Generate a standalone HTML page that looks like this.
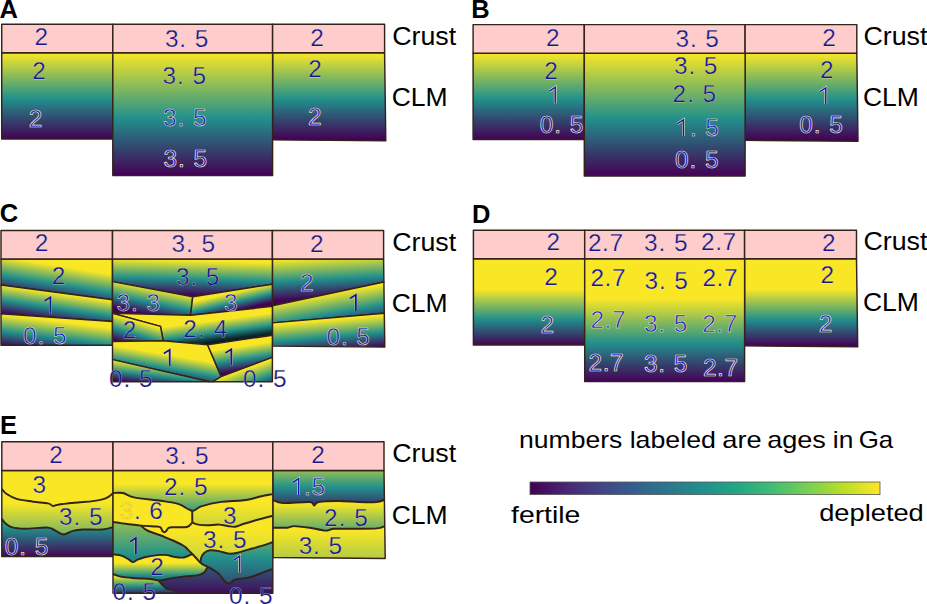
<!DOCTYPE html>
<html><head><meta charset="utf-8"><title>figure</title>
<style>
html,body{margin:0;padding:0;background:#fff;overflow:hidden}
svg{display:block}
text{font-family:"Liberation Sans",sans-serif}
.n text{font-size:24.4px;stroke:#f8ecb8;stroke-width:.25px;stroke-linejoin:round}
.n .d1{stroke-width:.5px;fill:#1818c0}
.n .d2{stroke-width:.7px;fill:#1414d8}
.l text{fill:#000}
</style></head><body>
<svg width="927" height="604" viewBox="0 0 927 604">
<defs>
<linearGradient id="g1" gradientUnits="userSpaceOnUse" x1="0.0" y1="52.8" x2="0.0" y2="139.0"><stop offset="0" stop-color="#f9e725"/><stop offset="0.05" stop-color="#e5df2f"/><stop offset="0.1" stop-color="#d0d738"/><stop offset="0.15" stop-color="#bccf42"/><stop offset="0.2" stop-color="#a7c74c"/><stop offset="0.25" stop-color="#93be56"/><stop offset="0.3" stop-color="#7fb65f"/><stop offset="0.35" stop-color="#6aae69"/><stop offset="0.4" stop-color="#56a673"/><stop offset="0.45" stop-color="#429e7c"/><stop offset="0.5" stop-color="#2d9686"/><stop offset="0.55" stop-color="#228b8a"/><stop offset="0.6" stop-color="#267c84"/><stop offset="0.65" stop-color="#2a6c7e"/><stop offset="0.7" stop-color="#2e5d78"/><stop offset="0.75" stop-color="#314e72"/><stop offset="0.8" stop-color="#353e6c"/><stop offset="0.85" stop-color="#392f66"/><stop offset="0.9" stop-color="#3d2060"/><stop offset="0.95" stop-color="#40105a"/><stop offset="1" stop-color="#440154"/></linearGradient>
<linearGradient id="g2" gradientUnits="userSpaceOnUse" x1="0.0" y1="52.8" x2="0.0" y2="139.6"><stop offset="0" stop-color="#f9e725"/><stop offset="0.05" stop-color="#e5df2f"/><stop offset="0.1" stop-color="#d0d738"/><stop offset="0.15" stop-color="#bccf42"/><stop offset="0.2" stop-color="#a7c74c"/><stop offset="0.25" stop-color="#93be56"/><stop offset="0.3" stop-color="#7fb65f"/><stop offset="0.35" stop-color="#6aae69"/><stop offset="0.4" stop-color="#56a673"/><stop offset="0.45" stop-color="#429e7c"/><stop offset="0.5" stop-color="#2d9686"/><stop offset="0.55" stop-color="#228b8a"/><stop offset="0.6" stop-color="#267c84"/><stop offset="0.65" stop-color="#2a6c7e"/><stop offset="0.7" stop-color="#2e5d78"/><stop offset="0.75" stop-color="#314e72"/><stop offset="0.8" stop-color="#353e6c"/><stop offset="0.85" stop-color="#392f66"/><stop offset="0.9" stop-color="#3d2060"/><stop offset="0.95" stop-color="#40105a"/><stop offset="1" stop-color="#440154"/></linearGradient>
<linearGradient id="g3" gradientUnits="userSpaceOnUse" x1="0.0" y1="52.8" x2="0.0" y2="175.6"><stop offset="0" stop-color="#f9e725"/><stop offset="0.05" stop-color="#e5df2f"/><stop offset="0.1" stop-color="#d0d738"/><stop offset="0.15" stop-color="#bccf42"/><stop offset="0.2" stop-color="#a7c74c"/><stop offset="0.25" stop-color="#93be56"/><stop offset="0.3" stop-color="#7fb65f"/><stop offset="0.35" stop-color="#6aae69"/><stop offset="0.4" stop-color="#56a673"/><stop offset="0.45" stop-color="#429e7c"/><stop offset="0.5" stop-color="#2d9686"/><stop offset="0.55" stop-color="#228b8a"/><stop offset="0.6" stop-color="#267c84"/><stop offset="0.65" stop-color="#2a6c7e"/><stop offset="0.7" stop-color="#2e5d78"/><stop offset="0.75" stop-color="#314e72"/><stop offset="0.8" stop-color="#353e6c"/><stop offset="0.85" stop-color="#392f66"/><stop offset="0.9" stop-color="#3d2060"/><stop offset="0.95" stop-color="#40105a"/><stop offset="1" stop-color="#440154"/></linearGradient>
<linearGradient id="g4" gradientUnits="userSpaceOnUse" x1="0.0" y1="53.2" x2="0.0" y2="139.4"><stop offset="0" stop-color="#f9e725"/><stop offset="0.05" stop-color="#e5df2f"/><stop offset="0.1" stop-color="#d0d738"/><stop offset="0.15" stop-color="#bccf42"/><stop offset="0.2" stop-color="#a7c74c"/><stop offset="0.25" stop-color="#93be56"/><stop offset="0.3" stop-color="#7fb65f"/><stop offset="0.35" stop-color="#6aae69"/><stop offset="0.4" stop-color="#56a673"/><stop offset="0.45" stop-color="#429e7c"/><stop offset="0.5" stop-color="#2d9686"/><stop offset="0.55" stop-color="#228b8a"/><stop offset="0.6" stop-color="#267c84"/><stop offset="0.65" stop-color="#2a6c7e"/><stop offset="0.7" stop-color="#2e5d78"/><stop offset="0.75" stop-color="#314e72"/><stop offset="0.8" stop-color="#353e6c"/><stop offset="0.85" stop-color="#392f66"/><stop offset="0.9" stop-color="#3d2060"/><stop offset="0.95" stop-color="#40105a"/><stop offset="1" stop-color="#440154"/></linearGradient>
<linearGradient id="g5" gradientUnits="userSpaceOnUse" x1="0.0" y1="53.2" x2="0.0" y2="140.0"><stop offset="0" stop-color="#f9e725"/><stop offset="0.05" stop-color="#e5df2f"/><stop offset="0.1" stop-color="#d0d738"/><stop offset="0.15" stop-color="#bccf42"/><stop offset="0.2" stop-color="#a7c74c"/><stop offset="0.25" stop-color="#93be56"/><stop offset="0.3" stop-color="#7fb65f"/><stop offset="0.35" stop-color="#6aae69"/><stop offset="0.4" stop-color="#56a673"/><stop offset="0.45" stop-color="#429e7c"/><stop offset="0.5" stop-color="#2d9686"/><stop offset="0.55" stop-color="#228b8a"/><stop offset="0.6" stop-color="#267c84"/><stop offset="0.65" stop-color="#2a6c7e"/><stop offset="0.7" stop-color="#2e5d78"/><stop offset="0.75" stop-color="#314e72"/><stop offset="0.8" stop-color="#353e6c"/><stop offset="0.85" stop-color="#392f66"/><stop offset="0.9" stop-color="#3d2060"/><stop offset="0.95" stop-color="#40105a"/><stop offset="1" stop-color="#440154"/></linearGradient>
<linearGradient id="g6" gradientUnits="userSpaceOnUse" x1="0.0" y1="53.2" x2="0.0" y2="176.0"><stop offset="0" stop-color="#f9e725"/><stop offset="0.05" stop-color="#e5df2f"/><stop offset="0.1" stop-color="#d0d738"/><stop offset="0.15" stop-color="#bccf42"/><stop offset="0.2" stop-color="#a7c74c"/><stop offset="0.25" stop-color="#93be56"/><stop offset="0.3" stop-color="#7fb65f"/><stop offset="0.35" stop-color="#6aae69"/><stop offset="0.4" stop-color="#56a673"/><stop offset="0.45" stop-color="#429e7c"/><stop offset="0.5" stop-color="#2d9686"/><stop offset="0.55" stop-color="#228b8a"/><stop offset="0.6" stop-color="#267c84"/><stop offset="0.65" stop-color="#2a6c7e"/><stop offset="0.7" stop-color="#2e5d78"/><stop offset="0.75" stop-color="#314e72"/><stop offset="0.8" stop-color="#353e6c"/><stop offset="0.85" stop-color="#392f66"/><stop offset="0.9" stop-color="#3d2060"/><stop offset="0.95" stop-color="#40105a"/><stop offset="1" stop-color="#440154"/></linearGradient>
<linearGradient id="g7" gradientUnits="userSpaceOnUse" x1="0.0" y1="289.3" x2="0.0" y2="345.5"><stop offset="0" stop-color="#f9e725"/><stop offset="0.05" stop-color="#e5df2f"/><stop offset="0.1" stop-color="#d0d738"/><stop offset="0.15" stop-color="#bccf42"/><stop offset="0.2" stop-color="#a7c74c"/><stop offset="0.25" stop-color="#93be56"/><stop offset="0.3" stop-color="#7fb65f"/><stop offset="0.35" stop-color="#6aae69"/><stop offset="0.4" stop-color="#56a673"/><stop offset="0.45" stop-color="#429e7c"/><stop offset="0.5" stop-color="#2d9686"/><stop offset="0.55" stop-color="#228b8a"/><stop offset="0.6" stop-color="#267c84"/><stop offset="0.65" stop-color="#2a6c7e"/><stop offset="0.7" stop-color="#2e5d78"/><stop offset="0.75" stop-color="#314e72"/><stop offset="0.8" stop-color="#353e6c"/><stop offset="0.85" stop-color="#392f66"/><stop offset="0.9" stop-color="#3d2060"/><stop offset="0.95" stop-color="#40105a"/><stop offset="1" stop-color="#440154"/></linearGradient>
<linearGradient id="g8" gradientUnits="userSpaceOnUse" x1="0.0" y1="289.3" x2="0.0" y2="346.1"><stop offset="0" stop-color="#f9e725"/><stop offset="0.05" stop-color="#e5df2f"/><stop offset="0.1" stop-color="#d0d738"/><stop offset="0.15" stop-color="#bccf42"/><stop offset="0.2" stop-color="#a7c74c"/><stop offset="0.25" stop-color="#93be56"/><stop offset="0.3" stop-color="#7fb65f"/><stop offset="0.35" stop-color="#6aae69"/><stop offset="0.4" stop-color="#56a673"/><stop offset="0.45" stop-color="#429e7c"/><stop offset="0.5" stop-color="#2d9686"/><stop offset="0.55" stop-color="#228b8a"/><stop offset="0.6" stop-color="#267c84"/><stop offset="0.65" stop-color="#2a6c7e"/><stop offset="0.7" stop-color="#2e5d78"/><stop offset="0.75" stop-color="#314e72"/><stop offset="0.8" stop-color="#353e6c"/><stop offset="0.85" stop-color="#392f66"/><stop offset="0.9" stop-color="#3d2060"/><stop offset="0.95" stop-color="#40105a"/><stop offset="1" stop-color="#440154"/></linearGradient>
<linearGradient id="g9" gradientUnits="userSpaceOnUse" x1="0.0" y1="298.8" x2="0.0" y2="381.6"><stop offset="0" stop-color="#f9e725"/><stop offset="0.05" stop-color="#e5df2f"/><stop offset="0.1" stop-color="#d0d738"/><stop offset="0.15" stop-color="#bccf42"/><stop offset="0.2" stop-color="#a7c74c"/><stop offset="0.25" stop-color="#93be56"/><stop offset="0.3" stop-color="#7fb65f"/><stop offset="0.35" stop-color="#6aae69"/><stop offset="0.4" stop-color="#56a673"/><stop offset="0.45" stop-color="#429e7c"/><stop offset="0.5" stop-color="#2d9686"/><stop offset="0.55" stop-color="#228b8a"/><stop offset="0.6" stop-color="#267c84"/><stop offset="0.65" stop-color="#2a6c7e"/><stop offset="0.7" stop-color="#2e5d78"/><stop offset="0.75" stop-color="#314e72"/><stop offset="0.8" stop-color="#353e6c"/><stop offset="0.85" stop-color="#392f66"/><stop offset="0.9" stop-color="#3d2060"/><stop offset="0.95" stop-color="#40105a"/><stop offset="1" stop-color="#440154"/></linearGradient>
<linearGradient id="g10" gradientUnits="userSpaceOnUse" x1="2.0" y1="256.8" x2="-3.4" y2="290.9"><stop offset="0" stop-color="#f9e725"/><stop offset="0.05" stop-color="#e5df2f"/><stop offset="0.1" stop-color="#d0d738"/><stop offset="0.15" stop-color="#bccf42"/><stop offset="0.2" stop-color="#a7c74c"/><stop offset="0.25" stop-color="#93be56"/><stop offset="0.3" stop-color="#7fb65f"/><stop offset="0.35" stop-color="#6aae69"/><stop offset="0.4" stop-color="#56a673"/><stop offset="0.45" stop-color="#429e7c"/><stop offset="0.5" stop-color="#2d9686"/><stop offset="0.55" stop-color="#228b8a"/><stop offset="0.6" stop-color="#267c84"/><stop offset="0.65" stop-color="#2a6c7e"/><stop offset="0.7" stop-color="#2e5d78"/><stop offset="0.75" stop-color="#314e72"/><stop offset="0.8" stop-color="#353e6c"/><stop offset="0.85" stop-color="#392f66"/><stop offset="0.9" stop-color="#3d2060"/><stop offset="0.95" stop-color="#40105a"/><stop offset="1" stop-color="#440154"/></linearGradient>
<linearGradient id="g11" gradientUnits="userSpaceOnUse" x1="2.0" y1="285.0" x2="-2.1" y2="312.7"><stop offset="0" stop-color="#f9e725"/><stop offset="0.05" stop-color="#e5df2f"/><stop offset="0.1" stop-color="#d0d738"/><stop offset="0.15" stop-color="#bccf42"/><stop offset="0.2" stop-color="#a7c74c"/><stop offset="0.25" stop-color="#93be56"/><stop offset="0.3" stop-color="#7fb65f"/><stop offset="0.35" stop-color="#6aae69"/><stop offset="0.4" stop-color="#56a673"/><stop offset="0.45" stop-color="#429e7c"/><stop offset="0.5" stop-color="#2d9686"/><stop offset="0.55" stop-color="#228b8a"/><stop offset="0.6" stop-color="#267c84"/><stop offset="0.65" stop-color="#2a6c7e"/><stop offset="0.7" stop-color="#2e5d78"/><stop offset="0.75" stop-color="#314e72"/><stop offset="0.8" stop-color="#353e6c"/><stop offset="0.85" stop-color="#392f66"/><stop offset="0.9" stop-color="#3d2060"/><stop offset="0.95" stop-color="#40105a"/><stop offset="1" stop-color="#440154"/></linearGradient>
<linearGradient id="g12" gradientUnits="userSpaceOnUse" x1="2.0" y1="314.5" x2="-1.8" y2="345.3"><stop offset="0" stop-color="#f9e725"/><stop offset="0.05" stop-color="#e5df2f"/><stop offset="0.1" stop-color="#d0d738"/><stop offset="0.15" stop-color="#bccf42"/><stop offset="0.2" stop-color="#a7c74c"/><stop offset="0.25" stop-color="#93be56"/><stop offset="0.3" stop-color="#7fb65f"/><stop offset="0.35" stop-color="#6aae69"/><stop offset="0.4" stop-color="#56a673"/><stop offset="0.45" stop-color="#429e7c"/><stop offset="0.5" stop-color="#2d9686"/><stop offset="0.55" stop-color="#228b8a"/><stop offset="0.6" stop-color="#267c84"/><stop offset="0.65" stop-color="#2a6c7e"/><stop offset="0.7" stop-color="#2e5d78"/><stop offset="0.75" stop-color="#314e72"/><stop offset="0.8" stop-color="#353e6c"/><stop offset="0.85" stop-color="#392f66"/><stop offset="0.9" stop-color="#3d2060"/><stop offset="0.95" stop-color="#40105a"/><stop offset="1" stop-color="#440154"/></linearGradient>
<linearGradient id="g13" gradientUnits="userSpaceOnUse" x1="273.0" y1="260.0" x2="275.1" y2="300.9"><stop offset="0" stop-color="#f9e725"/><stop offset="0.05" stop-color="#e5df2f"/><stop offset="0.1" stop-color="#d0d738"/><stop offset="0.15" stop-color="#bccf42"/><stop offset="0.2" stop-color="#a7c74c"/><stop offset="0.25" stop-color="#93be56"/><stop offset="0.3" stop-color="#7fb65f"/><stop offset="0.35" stop-color="#6aae69"/><stop offset="0.4" stop-color="#56a673"/><stop offset="0.45" stop-color="#429e7c"/><stop offset="0.5" stop-color="#2d9686"/><stop offset="0.55" stop-color="#228b8a"/><stop offset="0.6" stop-color="#267c84"/><stop offset="0.65" stop-color="#2a6c7e"/><stop offset="0.7" stop-color="#2e5d78"/><stop offset="0.75" stop-color="#314e72"/><stop offset="0.8" stop-color="#353e6c"/><stop offset="0.85" stop-color="#392f66"/><stop offset="0.9" stop-color="#3d2060"/><stop offset="0.95" stop-color="#40105a"/><stop offset="1" stop-color="#440154"/></linearGradient>
<linearGradient id="g14" gradientUnits="userSpaceOnUse" x1="384.0" y1="284.0" x2="390.6" y2="321.4"><stop offset="0" stop-color="#f9e725"/><stop offset="0.05" stop-color="#e5df2f"/><stop offset="0.1" stop-color="#d0d738"/><stop offset="0.15" stop-color="#bccf42"/><stop offset="0.2" stop-color="#a7c74c"/><stop offset="0.25" stop-color="#93be56"/><stop offset="0.3" stop-color="#7fb65f"/><stop offset="0.35" stop-color="#6aae69"/><stop offset="0.4" stop-color="#56a673"/><stop offset="0.45" stop-color="#429e7c"/><stop offset="0.5" stop-color="#2d9686"/><stop offset="0.55" stop-color="#228b8a"/><stop offset="0.6" stop-color="#267c84"/><stop offset="0.65" stop-color="#2a6c7e"/><stop offset="0.7" stop-color="#2e5d78"/><stop offset="0.75" stop-color="#314e72"/><stop offset="0.8" stop-color="#353e6c"/><stop offset="0.85" stop-color="#392f66"/><stop offset="0.9" stop-color="#3d2060"/><stop offset="0.95" stop-color="#40105a"/><stop offset="1" stop-color="#440154"/></linearGradient>
<linearGradient id="g15" gradientUnits="userSpaceOnUse" x1="384.0" y1="315.0" x2="386.8" y2="346.9"><stop offset="0" stop-color="#f9e725"/><stop offset="0.05" stop-color="#e5df2f"/><stop offset="0.1" stop-color="#d0d738"/><stop offset="0.15" stop-color="#bccf42"/><stop offset="0.2" stop-color="#a7c74c"/><stop offset="0.25" stop-color="#93be56"/><stop offset="0.3" stop-color="#7fb65f"/><stop offset="0.35" stop-color="#6aae69"/><stop offset="0.4" stop-color="#56a673"/><stop offset="0.45" stop-color="#429e7c"/><stop offset="0.5" stop-color="#2d9686"/><stop offset="0.55" stop-color="#228b8a"/><stop offset="0.6" stop-color="#267c84"/><stop offset="0.65" stop-color="#2a6c7e"/><stop offset="0.7" stop-color="#2e5d78"/><stop offset="0.75" stop-color="#314e72"/><stop offset="0.8" stop-color="#353e6c"/><stop offset="0.85" stop-color="#392f66"/><stop offset="0.9" stop-color="#3d2060"/><stop offset="0.95" stop-color="#40105a"/><stop offset="1" stop-color="#440154"/></linearGradient>
<linearGradient id="g16" gradientUnits="userSpaceOnUse" x1="113.0" y1="258.3" x2="112.0" y2="293.3"><stop offset="0" stop-color="#f9e725"/><stop offset="0.05" stop-color="#e5df2f"/><stop offset="0.1" stop-color="#d0d738"/><stop offset="0.15" stop-color="#bccf42"/><stop offset="0.2" stop-color="#a7c74c"/><stop offset="0.25" stop-color="#93be56"/><stop offset="0.3" stop-color="#7fb65f"/><stop offset="0.35" stop-color="#6aae69"/><stop offset="0.4" stop-color="#56a673"/><stop offset="0.45" stop-color="#429e7c"/><stop offset="0.5" stop-color="#2d9686"/><stop offset="0.55" stop-color="#228b8a"/><stop offset="0.6" stop-color="#267c84"/><stop offset="0.65" stop-color="#2a6c7e"/><stop offset="0.7" stop-color="#2e5d78"/><stop offset="0.75" stop-color="#314e72"/><stop offset="0.8" stop-color="#353e6c"/><stop offset="0.85" stop-color="#392f66"/><stop offset="0.9" stop-color="#3d2060"/><stop offset="0.95" stop-color="#40105a"/><stop offset="1" stop-color="#440154"/></linearGradient>
<linearGradient id="g17" gradientUnits="userSpaceOnUse" x1="113.0" y1="280.2" x2="107.8" y2="306.7"><stop offset="0" stop-color="#f9e725"/><stop offset="0.05" stop-color="#e5df2f"/><stop offset="0.1" stop-color="#d0d738"/><stop offset="0.15" stop-color="#bccf42"/><stop offset="0.2" stop-color="#a7c74c"/><stop offset="0.25" stop-color="#93be56"/><stop offset="0.3" stop-color="#7fb65f"/><stop offset="0.35" stop-color="#6aae69"/><stop offset="0.4" stop-color="#56a673"/><stop offset="0.45" stop-color="#429e7c"/><stop offset="0.5" stop-color="#2d9686"/><stop offset="0.55" stop-color="#228b8a"/><stop offset="0.6" stop-color="#267c84"/><stop offset="0.65" stop-color="#2a6c7e"/><stop offset="0.7" stop-color="#2e5d78"/><stop offset="0.75" stop-color="#314e72"/><stop offset="0.8" stop-color="#353e6c"/><stop offset="0.85" stop-color="#392f66"/><stop offset="0.9" stop-color="#3d2060"/><stop offset="0.95" stop-color="#40105a"/><stop offset="1" stop-color="#440154"/></linearGradient>
<linearGradient id="g18" gradientUnits="userSpaceOnUse" x1="272.0" y1="283.4" x2="276.2" y2="301.4"><stop offset="0" stop-color="#f9e725"/><stop offset="0.05" stop-color="#e5df2f"/><stop offset="0.1" stop-color="#d0d738"/><stop offset="0.15" stop-color="#bccf42"/><stop offset="0.2" stop-color="#a7c74c"/><stop offset="0.25" stop-color="#93be56"/><stop offset="0.3" stop-color="#7fb65f"/><stop offset="0.35" stop-color="#6aae69"/><stop offset="0.4" stop-color="#56a673"/><stop offset="0.45" stop-color="#429e7c"/><stop offset="0.5" stop-color="#2d9686"/><stop offset="0.55" stop-color="#228b8a"/><stop offset="0.6" stop-color="#267c84"/><stop offset="0.65" stop-color="#2a6c7e"/><stop offset="0.7" stop-color="#2e5d78"/><stop offset="0.75" stop-color="#314e72"/><stop offset="0.8" stop-color="#353e6c"/><stop offset="0.85" stop-color="#392f66"/><stop offset="0.9" stop-color="#3d2060"/><stop offset="0.95" stop-color="#40105a"/><stop offset="1" stop-color="#440154"/></linearGradient>
<linearGradient id="g19" gradientUnits="userSpaceOnUse" x1="271.5" y1="313.0" x2="274.7" y2="337.3"><stop offset="0" stop-color="#f9e725"/><stop offset="0.5" stop-color="#21918c"/><stop offset="0.77" stop-color="#0f3438"/><stop offset="0.95" stop-color="#040c0e"/></linearGradient>
<linearGradient id="g20" gradientUnits="userSpaceOnUse" x1="113.0" y1="314.5" x2="106.4" y2="337.6"><stop offset="0" stop-color="#f9e725"/><stop offset="0.05" stop-color="#e5df2f"/><stop offset="0.1" stop-color="#d0d738"/><stop offset="0.15" stop-color="#bccf42"/><stop offset="0.2" stop-color="#a7c74c"/><stop offset="0.25" stop-color="#93be56"/><stop offset="0.3" stop-color="#7fb65f"/><stop offset="0.35" stop-color="#6aae69"/><stop offset="0.4" stop-color="#56a673"/><stop offset="0.45" stop-color="#429e7c"/><stop offset="0.5" stop-color="#2d9686"/><stop offset="0.55" stop-color="#228b8a"/><stop offset="0.6" stop-color="#267c84"/><stop offset="0.65" stop-color="#2a6c7e"/><stop offset="0.7" stop-color="#2e5d78"/><stop offset="0.75" stop-color="#314e72"/><stop offset="0.8" stop-color="#353e6c"/><stop offset="0.85" stop-color="#392f66"/><stop offset="0.9" stop-color="#3d2060"/><stop offset="0.95" stop-color="#40105a"/><stop offset="1" stop-color="#440154"/></linearGradient>
<linearGradient id="g21" gradientUnits="userSpaceOnUse" x1="113.0" y1="345.2" x2="108.6" y2="370.8"><stop offset="0" stop-color="#f9e725"/><stop offset="0.05" stop-color="#e5df2f"/><stop offset="0.1" stop-color="#d0d738"/><stop offset="0.15" stop-color="#bccf42"/><stop offset="0.2" stop-color="#a7c74c"/><stop offset="0.25" stop-color="#93be56"/><stop offset="0.3" stop-color="#7fb65f"/><stop offset="0.35" stop-color="#6aae69"/><stop offset="0.4" stop-color="#56a673"/><stop offset="0.45" stop-color="#429e7c"/><stop offset="0.5" stop-color="#2d9686"/><stop offset="0.55" stop-color="#228b8a"/><stop offset="0.6" stop-color="#267c84"/><stop offset="0.65" stop-color="#2a6c7e"/><stop offset="0.7" stop-color="#2e5d78"/><stop offset="0.75" stop-color="#314e72"/><stop offset="0.8" stop-color="#353e6c"/><stop offset="0.85" stop-color="#392f66"/><stop offset="0.9" stop-color="#3d2060"/><stop offset="0.95" stop-color="#40105a"/><stop offset="1" stop-color="#440154"/></linearGradient>
<linearGradient id="g22" gradientUnits="userSpaceOnUse" x1="113.0" y1="360.0" x2="110.7" y2="379.9"><stop offset="0" stop-color="#f9e725"/><stop offset="0.05" stop-color="#e5df2f"/><stop offset="0.1" stop-color="#d0d738"/><stop offset="0.15" stop-color="#bccf42"/><stop offset="0.2" stop-color="#a7c74c"/><stop offset="0.25" stop-color="#93be56"/><stop offset="0.3" stop-color="#7fb65f"/><stop offset="0.35" stop-color="#6aae69"/><stop offset="0.4" stop-color="#56a673"/><stop offset="0.45" stop-color="#429e7c"/><stop offset="0.5" stop-color="#2d9686"/><stop offset="0.55" stop-color="#228b8a"/><stop offset="0.6" stop-color="#267c84"/><stop offset="0.65" stop-color="#2a6c7e"/><stop offset="0.7" stop-color="#2e5d78"/><stop offset="0.75" stop-color="#314e72"/><stop offset="0.8" stop-color="#353e6c"/><stop offset="0.85" stop-color="#392f66"/><stop offset="0.9" stop-color="#3d2060"/><stop offset="0.95" stop-color="#40105a"/><stop offset="1" stop-color="#440154"/></linearGradient>
<linearGradient id="g23" gradientUnits="userSpaceOnUse" x1="225.0" y1="348.6" x2="228.6" y2="372.8"><stop offset="0" stop-color="#f9e725"/><stop offset="0.05" stop-color="#e5df2f"/><stop offset="0.1" stop-color="#d0d738"/><stop offset="0.15" stop-color="#bccf42"/><stop offset="0.2" stop-color="#a7c74c"/><stop offset="0.25" stop-color="#93be56"/><stop offset="0.3" stop-color="#7fb65f"/><stop offset="0.35" stop-color="#6aae69"/><stop offset="0.4" stop-color="#56a673"/><stop offset="0.45" stop-color="#429e7c"/><stop offset="0.5" stop-color="#2d9686"/><stop offset="0.55" stop-color="#228b8a"/><stop offset="0.6" stop-color="#267c84"/><stop offset="0.65" stop-color="#2a6c7e"/><stop offset="0.7" stop-color="#2e5d78"/><stop offset="0.75" stop-color="#314e72"/><stop offset="0.8" stop-color="#353e6c"/><stop offset="0.85" stop-color="#392f66"/><stop offset="0.9" stop-color="#3d2060"/><stop offset="0.95" stop-color="#40105a"/><stop offset="1" stop-color="#440154"/></linearGradient>
<linearGradient id="g24" gradientUnits="userSpaceOnUse" x1="271.0" y1="360.0" x2="280.0" y2="385.5"><stop offset="0" stop-color="#f9e725"/><stop offset="0.05" stop-color="#e5df2f"/><stop offset="0.1" stop-color="#d0d738"/><stop offset="0.15" stop-color="#bccf42"/><stop offset="0.2" stop-color="#a7c74c"/><stop offset="0.25" stop-color="#93be56"/><stop offset="0.3" stop-color="#7fb65f"/><stop offset="0.35" stop-color="#6aae69"/><stop offset="0.4" stop-color="#56a673"/><stop offset="0.45" stop-color="#429e7c"/><stop offset="0.5" stop-color="#2d9686"/><stop offset="0.55" stop-color="#228b8a"/><stop offset="0.6" stop-color="#267c84"/><stop offset="0.65" stop-color="#2a6c7e"/><stop offset="0.7" stop-color="#2e5d78"/><stop offset="0.75" stop-color="#314e72"/><stop offset="0.8" stop-color="#353e6c"/><stop offset="0.85" stop-color="#392f66"/><stop offset="0.9" stop-color="#3d2060"/><stop offset="0.95" stop-color="#40105a"/><stop offset="1" stop-color="#440154"/></linearGradient>
<linearGradient id="g25" gradientUnits="userSpaceOnUse" x1="0.0" y1="524.0" x2="0.0" y2="556.6"><stop offset="0" stop-color="#399b80"/><stop offset="0.05" stop-color="#2f9785"/><stop offset="0.1" stop-color="#25928a"/><stop offset="0.15" stop-color="#228c8a"/><stop offset="0.2" stop-color="#248487"/><stop offset="0.25" stop-color="#267c84"/><stop offset="0.3" stop-color="#287581"/><stop offset="0.35" stop-color="#2a6d7e"/><stop offset="0.4" stop-color="#2c657b"/><stop offset="0.45" stop-color="#2e5d78"/><stop offset="0.5" stop-color="#305575"/><stop offset="0.55" stop-color="#314d72"/><stop offset="0.6" stop-color="#33466f"/><stop offset="0.65" stop-color="#353e6c"/><stop offset="0.7" stop-color="#373669"/><stop offset="0.75" stop-color="#392e66"/><stop offset="0.8" stop-color="#3b2663"/><stop offset="0.85" stop-color="#3d1f5f"/><stop offset="0.9" stop-color="#3f175c"/><stop offset="0.95" stop-color="#410f59"/><stop offset="1" stop-color="#430756"/></linearGradient>
<linearGradient id="g26" gradientUnits="userSpaceOnUse" x1="0.0" y1="503.0" x2="0.0" y2="535.0"><stop offset="0" stop-color="#f9e725"/><stop offset="0.05" stop-color="#f2e428"/><stop offset="0.1" stop-color="#ece22b"/><stop offset="0.15" stop-color="#e5df2e"/><stop offset="0.2" stop-color="#dfdd31"/><stop offset="0.25" stop-color="#d8da35"/><stop offset="0.3" stop-color="#d2d738"/><stop offset="0.35" stop-color="#cbd53b"/><stop offset="0.4" stop-color="#c5d23e"/><stop offset="0.45" stop-color="#bed041"/><stop offset="0.5" stop-color="#b8cd44"/><stop offset="0.55" stop-color="#b1ca47"/><stop offset="0.6" stop-color="#abc84a"/><stop offset="0.65" stop-color="#a4c54d"/><stop offset="0.7" stop-color="#9ec351"/><stop offset="0.75" stop-color="#97c054"/><stop offset="0.8" stop-color="#91bd57"/><stop offset="0.85" stop-color="#8abb5a"/><stop offset="0.9" stop-color="#84b85d"/><stop offset="0.95" stop-color="#7db660"/><stop offset="1" stop-color="#77b363"/></linearGradient>
<linearGradient id="g27" gradientUnits="userSpaceOnUse" x1="0.0" y1="530.0" x2="0.0" y2="557.0"><stop offset="0" stop-color="#f9e725"/><stop offset="0.05" stop-color="#f6e627"/><stop offset="0.1" stop-color="#f2e428"/><stop offset="0.15" stop-color="#efe32a"/><stop offset="0.2" stop-color="#ece22b"/><stop offset="0.25" stop-color="#e9e12d"/><stop offset="0.3" stop-color="#e5df2e"/><stop offset="0.35" stop-color="#e2de30"/><stop offset="0.4" stop-color="#dfdd31"/><stop offset="0.45" stop-color="#dcdb33"/><stop offset="0.5" stop-color="#d8da35"/><stop offset="0.55" stop-color="#d5d936"/><stop offset="0.6" stop-color="#d2d738"/><stop offset="0.65" stop-color="#cfd639"/><stop offset="0.7" stop-color="#cbd53b"/><stop offset="0.75" stop-color="#c8d43c"/><stop offset="0.8" stop-color="#c5d23e"/><stop offset="0.85" stop-color="#c2d13f"/><stop offset="0.9" stop-color="#bed041"/><stop offset="0.95" stop-color="#bbce43"/><stop offset="1" stop-color="#b8cd44"/></linearGradient>
<linearGradient id="g28" gradientUnits="userSpaceOnUse" x1="0.0" y1="503.0" x2="0.0" y2="530.0"><stop offset="0" stop-color="#f9e725"/><stop offset="0.05" stop-color="#f1e429"/><stop offset="0.1" stop-color="#eae12c"/><stop offset="0.15" stop-color="#e2de30"/><stop offset="0.2" stop-color="#dbdb33"/><stop offset="0.25" stop-color="#d3d837"/><stop offset="0.3" stop-color="#ccd53b"/><stop offset="0.35" stop-color="#c4d23e"/><stop offset="0.4" stop-color="#bdcf42"/><stop offset="0.45" stop-color="#b5cc45"/><stop offset="0.5" stop-color="#aec949"/><stop offset="0.55" stop-color="#a6c64d"/><stop offset="0.6" stop-color="#9fc350"/><stop offset="0.65" stop-color="#97c054"/><stop offset="0.7" stop-color="#8fbd57"/><stop offset="0.75" stop-color="#88ba5b"/><stop offset="0.8" stop-color="#80b75f"/><stop offset="0.85" stop-color="#79b462"/><stop offset="0.9" stop-color="#71b166"/><stop offset="0.95" stop-color="#6aae69"/><stop offset="1" stop-color="#62ab6d"/></linearGradient>
<linearGradient id="g29" gradientUnits="userSpaceOnUse" x1="0.0" y1="470.0" x2="0.0" y2="502.0"><stop offset="0" stop-color="#97c054"/><stop offset="0.05" stop-color="#8cbc59"/><stop offset="0.1" stop-color="#81b75e"/><stop offset="0.15" stop-color="#76b363"/><stop offset="0.2" stop-color="#6baf69"/><stop offset="0.25" stop-color="#60aa6e"/><stop offset="0.3" stop-color="#55a673"/><stop offset="0.35" stop-color="#4aa178"/><stop offset="0.4" stop-color="#3f9d7e"/><stop offset="0.45" stop-color="#349983"/><stop offset="0.5" stop-color="#299488"/><stop offset="0.55" stop-color="#228f8b"/><stop offset="0.6" stop-color="#248788"/><stop offset="0.65" stop-color="#267e85"/><stop offset="0.7" stop-color="#287682"/><stop offset="0.75" stop-color="#2a6e7e"/><stop offset="0.8" stop-color="#2c657b"/><stop offset="0.85" stop-color="#2e5d78"/><stop offset="0.9" stop-color="#305575"/><stop offset="0.95" stop-color="#324d71"/><stop offset="1" stop-color="#34446e"/></linearGradient>
<linearGradient id="g30" gradientUnits="userSpaceOnUse" x1="0.0" y1="572.0" x2="0.0" y2="593.2"><stop offset="0" stop-color="#324b71"/><stop offset="0.05" stop-color="#33476f"/><stop offset="0.1" stop-color="#34446e"/><stop offset="0.15" stop-color="#34416d"/><stop offset="0.2" stop-color="#353e6c"/><stop offset="0.25" stop-color="#363b6b"/><stop offset="0.3" stop-color="#373869"/><stop offset="0.35" stop-color="#373568"/><stop offset="0.4" stop-color="#383267"/><stop offset="0.45" stop-color="#392f66"/><stop offset="0.5" stop-color="#3a2c65"/><stop offset="0.55" stop-color="#3a2963"/><stop offset="0.6" stop-color="#3b2662"/><stop offset="0.65" stop-color="#3c2361"/><stop offset="0.7" stop-color="#3d2060"/><stop offset="0.75" stop-color="#3d1d5f"/><stop offset="0.8" stop-color="#3e1a5e"/><stop offset="0.85" stop-color="#3f165c"/><stop offset="0.9" stop-color="#40135b"/><stop offset="0.95" stop-color="#40105a"/><stop offset="1" stop-color="#410d59"/></linearGradient>
<linearGradient id="g31" gradientUnits="userSpaceOnUse" x1="0.0" y1="577.0" x2="0.0" y2="593.2"><stop offset="0" stop-color="#e5df2f"/><stop offset="0.05" stop-color="#d4d837"/><stop offset="0.1" stop-color="#c3d13f"/><stop offset="0.15" stop-color="#b2cb47"/><stop offset="0.2" stop-color="#a1c44f"/><stop offset="0.25" stop-color="#90bd57"/><stop offset="0.3" stop-color="#7fb65f"/><stop offset="0.35" stop-color="#6eb067"/><stop offset="0.4" stop-color="#5da96f"/><stop offset="0.45" stop-color="#4ca277"/><stop offset="0.5" stop-color="#3b9c7f"/><stop offset="0.55" stop-color="#2b9587"/><stop offset="0.6" stop-color="#228b8a"/><stop offset="0.65" stop-color="#257f85"/><stop offset="0.7" stop-color="#297280"/><stop offset="0.75" stop-color="#2c657b"/><stop offset="0.8" stop-color="#2f5976"/><stop offset="0.85" stop-color="#324c71"/><stop offset="0.9" stop-color="#353f6c"/><stop offset="0.95" stop-color="#383267"/><stop offset="1" stop-color="#3b2662"/></linearGradient>
<linearGradient id="g32" gradientUnits="userSpaceOnUse" x1="0.0" y1="548.0" x2="0.0" y2="580.0"><stop offset="0" stop-color="#46a07b"/><stop offset="0.05" stop-color="#409d7d"/><stop offset="0.1" stop-color="#3a9b80"/><stop offset="0.15" stop-color="#359983"/><stop offset="0.2" stop-color="#2f9785"/><stop offset="0.25" stop-color="#299488"/><stop offset="0.3" stop-color="#23928b"/><stop offset="0.35" stop-color="#228f8b"/><stop offset="0.4" stop-color="#238a89"/><stop offset="0.45" stop-color="#248688"/><stop offset="0.5" stop-color="#258286"/><stop offset="0.55" stop-color="#267d84"/><stop offset="0.6" stop-color="#277983"/><stop offset="0.65" stop-color="#287581"/><stop offset="0.7" stop-color="#29717f"/><stop offset="0.75" stop-color="#2a6c7e"/><stop offset="0.8" stop-color="#2b687c"/><stop offset="0.85" stop-color="#2c647a"/><stop offset="0.9" stop-color="#2d5f79"/><stop offset="0.95" stop-color="#2e5b77"/><stop offset="1" stop-color="#2f5775"/></linearGradient>
<linearGradient id="g33" gradientUnits="userSpaceOnUse" x1="0.0" y1="563.0" x2="0.0" y2="577.0"><stop offset="0" stop-color="#f9e725"/><stop offset="0.05" stop-color="#ede22b"/><stop offset="0.1" stop-color="#e1dd31"/><stop offset="0.15" stop-color="#d4d836"/><stop offset="0.2" stop-color="#c8d43c"/><stop offset="0.25" stop-color="#bccf42"/><stop offset="0.3" stop-color="#b0ca48"/><stop offset="0.35" stop-color="#a3c54e"/><stop offset="0.4" stop-color="#97c054"/><stop offset="0.45" stop-color="#8bbb59"/><stop offset="0.5" stop-color="#7fb65f"/><stop offset="0.55" stop-color="#73b165"/><stop offset="0.6" stop-color="#66ad6b"/><stop offset="0.65" stop-color="#5aa871"/><stop offset="0.7" stop-color="#4ea377"/><stop offset="0.75" stop-color="#429e7c"/><stop offset="0.8" stop-color="#359982"/><stop offset="0.85" stop-color="#299488"/><stop offset="0.9" stop-color="#228e8b"/><stop offset="0.95" stop-color="#248587"/><stop offset="1" stop-color="#267c84"/></linearGradient>
<linearGradient id="g34" gradientUnits="userSpaceOnUse" x1="0.0" y1="524.0" x2="0.0" y2="558.0"><stop offset="0" stop-color="#8bbb59"/><stop offset="0.05" stop-color="#85b95c"/><stop offset="0.1" stop-color="#80b75f"/><stop offset="0.15" stop-color="#7ab462"/><stop offset="0.2" stop-color="#74b264"/><stop offset="0.25" stop-color="#6eb067"/><stop offset="0.3" stop-color="#69ae6a"/><stop offset="0.35" stop-color="#63ab6d"/><stop offset="0.4" stop-color="#5da96f"/><stop offset="0.45" stop-color="#58a772"/><stop offset="0.5" stop-color="#52a475"/><stop offset="0.55" stop-color="#4ca277"/><stop offset="0.6" stop-color="#46a07a"/><stop offset="0.65" stop-color="#419e7d"/><stop offset="0.7" stop-color="#3b9b80"/><stop offset="0.75" stop-color="#359982"/><stop offset="0.8" stop-color="#309785"/><stop offset="0.85" stop-color="#2a9588"/><stop offset="0.9" stop-color="#24928a"/><stop offset="0.95" stop-color="#218f8b"/><stop offset="1" stop-color="#228b8a"/></linearGradient>
<linearGradient id="g35" gradientUnits="userSpaceOnUse" x1="0.0" y1="530.0" x2="0.0" y2="556.0"><stop offset="0" stop-color="#f9e725"/><stop offset="0.05" stop-color="#f7e626"/><stop offset="0.1" stop-color="#f5e527"/><stop offset="0.15" stop-color="#f3e528"/><stop offset="0.2" stop-color="#f1e429"/><stop offset="0.25" stop-color="#efe32a"/><stop offset="0.3" stop-color="#ede22b"/><stop offset="0.35" stop-color="#ebe12c"/><stop offset="0.4" stop-color="#e9e12d"/><stop offset="0.45" stop-color="#e7e02e"/><stop offset="0.5" stop-color="#e5df2f"/><stop offset="0.55" stop-color="#e3de30"/><stop offset="0.6" stop-color="#e1dd31"/><stop offset="0.65" stop-color="#dfdc32"/><stop offset="0.7" stop-color="#dcdc33"/><stop offset="0.75" stop-color="#dadb34"/><stop offset="0.8" stop-color="#d8da35"/><stop offset="0.85" stop-color="#d6d936"/><stop offset="0.9" stop-color="#d4d836"/><stop offset="0.95" stop-color="#d2d837"/><stop offset="1" stop-color="#d0d738"/></linearGradient>
<linearGradient id="g36" gradientUnits="userSpaceOnUse" x1="0.0" y1="484.0" x2="0.0" y2="509.0"><stop offset="0" stop-color="#f9e725"/><stop offset="0.05" stop-color="#f0e329"/><stop offset="0.1" stop-color="#e7e02e"/><stop offset="0.15" stop-color="#dddc32"/><stop offset="0.2" stop-color="#d4d836"/><stop offset="0.25" stop-color="#cbd53b"/><stop offset="0.3" stop-color="#c2d13f"/><stop offset="0.35" stop-color="#b9cd44"/><stop offset="0.4" stop-color="#b0ca48"/><stop offset="0.45" stop-color="#a6c64c"/><stop offset="0.5" stop-color="#9dc251"/><stop offset="0.55" stop-color="#94bf55"/><stop offset="0.6" stop-color="#8bbb59"/><stop offset="0.65" stop-color="#82b85e"/><stop offset="0.7" stop-color="#79b462"/><stop offset="0.75" stop-color="#6fb067"/><stop offset="0.8" stop-color="#66ad6b"/><stop offset="0.85" stop-color="#5da96f"/><stop offset="0.9" stop-color="#54a574"/><stop offset="0.95" stop-color="#4ba278"/><stop offset="1" stop-color="#429e7c"/></linearGradient>
<linearGradient id="g37" gradientUnits="userSpaceOnUse" x1="0.0" y1="505.0" x2="0.0" y2="527.0"><stop offset="0" stop-color="#f9e725"/><stop offset="0.05" stop-color="#f7e626"/><stop offset="0.1" stop-color="#f4e527"/><stop offset="0.15" stop-color="#f2e428"/><stop offset="0.2" stop-color="#efe32a"/><stop offset="0.25" stop-color="#ede22b"/><stop offset="0.3" stop-color="#eae12c"/><stop offset="0.35" stop-color="#e8e02d"/><stop offset="0.4" stop-color="#e5df2e"/><stop offset="0.45" stop-color="#e3de2f"/><stop offset="0.5" stop-color="#e1dd31"/><stop offset="0.55" stop-color="#dedc32"/><stop offset="0.6" stop-color="#dcdb33"/><stop offset="0.65" stop-color="#d9da34"/><stop offset="0.7" stop-color="#d7d935"/><stop offset="0.75" stop-color="#d4d836"/><stop offset="0.8" stop-color="#d2d738"/><stop offset="0.85" stop-color="#cfd639"/><stop offset="0.9" stop-color="#cdd53a"/><stop offset="0.95" stop-color="#cbd53b"/><stop offset="1" stop-color="#c8d43c"/></linearGradient>
<linearGradient id="cb" x1="0" y1="0" x2="1" y2="0"><stop offset="0.0" stop-color="#440154"/><stop offset="0.1" stop-color="#482475"/><stop offset="0.2" stop-color="#414487"/><stop offset="0.3" stop-color="#355f8d"/><stop offset="0.4" stop-color="#2a788e"/><stop offset="0.5" stop-color="#21918c"/><stop offset="0.6" stop-color="#22a884"/><stop offset="0.7" stop-color="#44bf70"/><stop offset="0.8" stop-color="#7ad151"/><stop offset="0.9" stop-color="#bddf26"/><stop offset="1.0" stop-color="#fde725"/></linearGradient>
</defs>
<rect width="927" height="604" fill="#fff"/>
<g>
<path d="M1.7 52.8 L112.8 52.8 L112.8 139.0 L1.7 139.0Z" fill="url(#g1)" stroke="#33231b" stroke-width="1.45" stroke-linejoin="round"/>
<path d="M272.6 52.8 L384.6 52.8 L385.8 140.9 L272.6 139.9Z" fill="url(#g2)" stroke="#33231b" stroke-width="1.45" stroke-linejoin="round"/>
<path d="M112.8 52.8 L272.6 52.8 L272.6 175.6 L112.8 175.6Z" fill="url(#g3)" stroke="#33231b" stroke-width="1.45" stroke-linejoin="round"/>
<path d="M1.7 24.2 L112.8 24.2 L112.8 52.8 L1.7 52.8Z" fill="#fecccb" stroke="#33231b" stroke-width="1.45" stroke-linejoin="round"/>
<path d="M112.8 24.2 L272.6 24.2 L272.6 52.8 L112.8 52.8Z" fill="#fecccb" stroke="#33231b" stroke-width="1.45" stroke-linejoin="round"/>
<path d="M272.6 24.2 L384.6 24.2 L384.6 52.8 L272.6 52.8Z" fill="#fecccb" stroke="#33231b" stroke-width="1.45" stroke-linejoin="round"/>
<path d="M473.1 53.2 L584.3 53.2 L584.3 139.4 L473.1 139.4Z" fill="url(#g4)" stroke="#33231b" stroke-width="1.45" stroke-linejoin="round"/>
<path d="M745.1 53.2 L856.8 53.2 L858.0 141.3 L745.1 140.3Z" fill="url(#g5)" stroke="#33231b" stroke-width="1.45" stroke-linejoin="round"/>
<path d="M584.3 53.2 L745.1 53.2 L745.1 176.0 L584.3 176.0Z" fill="url(#g6)" stroke="#33231b" stroke-width="1.45" stroke-linejoin="round"/>
<path d="M473.1 24.6 L584.3 24.6 L584.3 53.2 L473.1 53.2Z" fill="#fecccb" stroke="#33231b" stroke-width="1.45" stroke-linejoin="round"/>
<path d="M584.3 24.6 L745.1 24.6 L745.1 53.2 L584.3 53.2Z" fill="#fecccb" stroke="#33231b" stroke-width="1.45" stroke-linejoin="round"/>
<path d="M745.1 24.6 L856.8 24.6 L856.8 53.2 L745.1 53.2Z" fill="#fecccb" stroke="#33231b" stroke-width="1.45" stroke-linejoin="round"/>
<path d="M473.4 258.8 L584.7 258.8 L584.7 345.0 L473.4 345.0Z" fill="url(#g7)" stroke="#33231b" stroke-width="1.45" stroke-linejoin="round"/>
<path d="M744.6 258.8 L856.5 258.8 L857.7 346.9 L744.6 345.9Z" fill="url(#g8)" stroke="#33231b" stroke-width="1.45" stroke-linejoin="round"/>
<path d="M584.7 258.8 L744.6 258.8 L744.6 381.6 L584.7 381.6Z" fill="url(#g9)" stroke="#33231b" stroke-width="1.45" stroke-linejoin="round"/>
<path d="M473.4 230.2 L584.7 230.2 L584.7 258.8 L473.4 258.8Z" fill="#fecccb" stroke="#33231b" stroke-width="1.45" stroke-linejoin="round"/>
<path d="M584.7 230.2 L744.6 230.2 L744.6 258.8 L584.7 258.8Z" fill="#fecccb" stroke="#33231b" stroke-width="1.45" stroke-linejoin="round"/>
<path d="M744.6 230.2 L856.5 230.2 L856.5 258.8 L744.6 258.8Z" fill="#fecccb" stroke="#33231b" stroke-width="1.45" stroke-linejoin="round"/>
<path d="M1.0 259.0 L112.5 259.0 L112.5 299.7 L1.0 285.0Z" fill="url(#g10)" stroke="#33231b" stroke-width="1.45" stroke-linejoin="round"/>
<path d="M1.0 285.0 L112.5 299.7 L112.5 321.5 L1.0 313.7Z" fill="url(#g11)" stroke="#33231b" stroke-width="1.45" stroke-linejoin="round"/>
<path d="M1.0 313.7 L112.5 321.5 L112.5 345.2 L1.0 345.2Z" fill="url(#g12)" stroke="#33231b" stroke-width="1.45" stroke-linejoin="round"/>
<path d="M272.4 259.0 L383.6 259.0 L383.9 282.0 L272.4 305.7Z" fill="url(#g13)" stroke="#33231b" stroke-width="1.45" stroke-linejoin="round"/>
<path d="M272.4 305.7 L383.9 282.0 L384.3 313.2 L272.4 322.9Z" fill="url(#g14)" stroke="#33231b" stroke-width="1.45" stroke-linejoin="round"/>
<path d="M272.4 322.9 L384.3 313.2 L384.8 347.1 L272.4 346.1Z" fill="url(#g15)" stroke="#33231b" stroke-width="1.45" stroke-linejoin="round"/>
<path d="M112.5 259.0 L272.4 259.0 L272.4 284.2 L192.7 296.8 L112.5 281.6Z" fill="url(#g16)" stroke="#33231b" stroke-width="1.45" stroke-linejoin="round"/>
<path d="M112.5 281.6 L192.7 296.8 L190.6 315.2 L112.5 313.2Z" fill="url(#g17)" stroke="#33231b" stroke-width="1.45" stroke-linejoin="round"/>
<path d="M192.7 296.8 L272.4 284.2 L272.4 306.4 L190.6 315.2Z" fill="url(#g18)" stroke="#33231b" stroke-width="1.45" stroke-linejoin="round"/>
<path d="M112.5 313.2 L190.6 315.2 L272.4 306.4 L272.4 335.2 L207.6 344.8 L163.2 340.8 L160.5 326.4Z" fill="url(#g19)" stroke="#33231b" stroke-width="1.45" stroke-linejoin="round"/>
<path d="M112.5 313.4 L160.5 326.4 L163.2 340.8 L112.5 341.6Z" fill="url(#g20)" stroke="#33231b" stroke-width="1.45" stroke-linejoin="round"/>
<path d="M112.5 341.6 L163.2 340.8 L207.6 344.8 L221.2 376.6 L212.5 381.8 L210.0 381.8 L112.5 359.6Z" fill="url(#g21)" stroke="#33231b" stroke-width="1.45" stroke-linejoin="round"/>
<path d="M112.5 359.6 L210.0 381.8 L112.5 381.8Z" fill="url(#g22)" stroke="#33231b" stroke-width="1.45" stroke-linejoin="round"/>
<path d="M207.6 344.8 L272.4 335.2 L272.4 357.4 L221.2 376.6Z" fill="url(#g23)" stroke="#33231b" stroke-width="1.45" stroke-linejoin="round"/>
<path d="M221.2 376.6 L272.4 357.4 L272.4 381.8 L212.5 381.8Z" fill="url(#g24)" stroke="#33231b" stroke-width="1.45" stroke-linejoin="round"/>
<path d="M1.0 230.4 L112.5 230.4 L112.5 259.0 L1.0 259.0Z" fill="#fecccb" stroke="#33231b" stroke-width="1.45" stroke-linejoin="round"/>
<path d="M112.5 230.4 L272.4 230.4 L272.4 259.0 L112.5 259.0Z" fill="#fecccb" stroke="#33231b" stroke-width="1.45" stroke-linejoin="round"/>
<path d="M272.4 230.4 L383.6 230.4 L383.6 259.0 L272.4 259.0Z" fill="#fecccb" stroke="#33231b" stroke-width="1.45" stroke-linejoin="round"/>
<path d="M1.8 470.4 H113.0 V556.6 H1.8 Z" fill="url(#g25)"/>
<path d="M1.8 470.4 L113.0 470.4 L113.0 527.1 C111.3 527.5 107.6 529.1 102.6 529.5 C97.6 529.9 87.8 529.3 82.8 529.5 C77.8 529.7 76.0 530.1 72.8 530.9 C69.6 531.7 66.5 534.5 63.7 534.5 C61.0 534.5 58.9 532.4 56.3 531.2 C53.7 530.1 53.2 528.0 48.0 527.6 C42.8 527.2 30.9 528.8 24.8 528.7 C18.7 528.6 14.9 528.1 11.6 527.1 C8.3 526.1 6.6 524.3 5.0 522.9 C3.4 521.5 2.3 519.5 1.8 518.8 Z" fill="url(#g26)"/>
<path d="M1.8 470.4 L113.0 470.4 L113.0 493.1 C112.5 493.6 111.5 494.8 110.0 495.8 C108.5 496.8 107.2 498.0 104.3 498.9 C101.4 499.8 97.7 500.5 92.7 501.1 C87.7 501.7 80.3 502.1 74.5 502.7 C68.7 503.3 61.5 504.1 57.9 504.7 C54.3 505.2 54.6 506.2 53.0 506.0 C51.4 505.8 51.3 504.1 48.0 503.4 C44.7 502.7 38.3 502.4 33.1 501.7 C27.9 500.9 21.0 500.2 16.6 498.9 C12.2 497.6 9.1 495.6 6.6 494.0 C4.1 492.4 2.6 489.8 1.8 489.0 Z" fill="#f9e725"/>
<path d="M1.8 489.0 C2.6 489.8 4.1 492.4 6.6 494.0 C9.1 495.6 12.2 497.6 16.6 498.9 C21.0 500.2 27.9 500.9 33.1 501.7 C38.3 502.4 44.7 502.7 48.0 503.4 C51.3 504.1 51.4 505.8 53.0 506.0 C54.6 506.2 54.3 505.2 57.9 504.7 C61.5 504.1 68.7 503.3 74.5 502.7 C80.3 502.1 87.7 501.7 92.7 501.1 C97.7 500.5 101.4 499.8 104.3 498.9 C107.2 498.0 108.5 496.8 110.0 495.8 C111.5 494.8 112.5 493.6 113.0 493.1" fill="none" stroke="#33231b" stroke-width="1.95" stroke-linejoin="round" stroke-linecap="butt"/>
<path d="M1.8 518.8 C2.3 519.5 3.4 521.5 5.0 522.9 C6.6 524.3 8.3 526.1 11.6 527.1 C14.9 528.1 18.7 528.6 24.8 528.7 C30.9 528.8 42.8 527.2 48.0 527.6 C53.2 528.0 53.7 530.1 56.3 531.2 C58.9 532.4 61.0 534.5 63.7 534.5 C66.5 534.5 69.6 531.7 72.8 530.9 C76.0 530.1 77.8 529.7 82.8 529.5 C87.8 529.3 97.6 529.9 102.6 529.5 C107.6 529.1 111.3 527.5 113.0 527.1" fill="none" stroke="#33231b" stroke-width="1.95" stroke-linejoin="round" stroke-linecap="butt"/>
<path d="M1.8 470.4 L113.0 470.4 L113.0 556.6 L1.8 556.6Z" fill="none" stroke="#33231b" stroke-width="1.45" stroke-linejoin="round"/>
<path d="M272.8 470.4 L384.0 470.4 L385.2 558.5 L272.8 557.5Z" fill="url(#g27)"/>
<path d="M272.8 470.4 L384.0 470.4 L384.8 526.1 C383.4 526.5 381.8 528.0 376.7 528.4 C371.6 528.8 361.4 528.7 354.3 528.8 C347.2 528.9 339.0 528.5 334.2 528.8 C329.4 529.1 329.4 530.8 325.3 530.6 C321.2 530.4 314.9 528.5 309.7 527.7 C304.5 527.0 297.7 526.1 294.0 526.1 C290.3 526.1 290.8 527.4 287.3 527.7 C283.8 528.0 275.2 527.7 272.8 527.7 Z" fill="url(#g28)"/>
<path d="M272.8 470.4 L384.0 470.4 L384.4 499.8 C383.1 500.2 381.0 501.6 376.7 502.0 C372.4 502.4 365.1 502.2 358.8 502.0 C352.5 501.8 345.4 500.9 338.7 500.9 C332.0 500.9 322.7 501.2 318.6 502.0 C314.5 502.8 315.6 505.4 314.1 505.4 C312.6 505.4 314.9 502.4 309.7 502.0 C304.5 501.6 289.0 503.5 282.9 503.1 C276.8 502.7 274.5 500.4 272.8 499.8 Z" fill="url(#g29)"/>
<path d="M272.8 499.8 C274.5 500.4 276.8 502.7 282.9 503.1 C289.0 503.5 304.5 501.6 309.7 502.0 C314.9 502.4 312.6 505.4 314.1 505.4 C315.6 505.4 314.5 502.8 318.6 502.0 C322.7 501.2 332.0 500.9 338.7 500.9 C345.4 500.9 352.5 501.8 358.8 502.0 C365.1 502.2 372.4 502.4 376.7 502.0 C381.0 501.6 383.1 500.2 384.4 499.8" fill="none" stroke="#33231b" stroke-width="1.95" stroke-linejoin="round" stroke-linecap="butt"/>
<path d="M272.8 527.7 C275.2 527.7 283.8 528.0 287.3 527.7 C290.8 527.4 290.3 526.1 294.0 526.1 C297.7 526.1 304.5 527.0 309.7 527.7 C314.9 528.5 321.2 530.4 325.3 530.6 C329.4 530.8 329.4 529.1 334.2 528.8 C339.0 528.5 347.2 528.9 354.3 528.8 C361.4 528.7 371.6 528.8 376.7 528.4 C381.8 528.0 383.4 526.5 384.8 526.1" fill="none" stroke="#33231b" stroke-width="1.95" stroke-linejoin="round" stroke-linecap="butt"/>
<path d="M272.8 470.4 L384.0 470.4 L385.2 558.5 L272.8 557.5Z" fill="none" stroke="#33231b" stroke-width="1.45" stroke-linejoin="round"/>
<path d="M113.0 470.4 H272.8 V593.2 H113.0 Z" fill="url(#g30)"/>
<path d="M113.0 574.0 C114.5 574.5 118.2 576.2 122.1 576.9 C125.9 577.6 131.4 577.9 136.1 578.3 C140.8 578.6 146.4 578.6 150.2 579.0 C153.9 579.4 157.2 580.2 158.6 580.4 C160.0 580.6 157.9 579.6 158.6 580.4 C159.3 581.2 161.4 583.9 162.8 585.3 C164.2 586.7 165.0 587.9 167.1 588.8 C169.2 589.7 173.2 590.2 175.5 590.9 C177.8 591.6 180.2 592.8 181.1 593.2 L113.0 593.2 Z" fill="url(#g31)"/>
<path d="M200.5 540.0 L272.8 540.0 L272.8 568.8 C270.9 569.5 265.7 571.7 261.6 573.2 C257.5 574.7 252.7 576.5 248.3 577.6 C243.9 578.7 238.3 578.8 235.1 579.8 C231.9 580.8 230.9 583.2 229.2 583.5 C227.5 583.8 226.5 582.9 224.8 581.3 C223.1 579.7 221.1 576.0 218.9 573.9 C216.7 571.8 214.0 570.3 211.5 568.8 C209.0 567.3 205.9 566.1 204.1 565.1 C202.3 564.1 201.1 563.3 200.5 562.9 Z" fill="url(#g32)"/>
<path d="M113.0 550.0 L192 550 L192 554.2 L200.5 562.9 L204.1 565.1 L207.6 567.0 C207.0 567.9 205.9 571.0 204.1 572.4 C202.3 573.8 199.7 574.8 196.8 575.4 C193.9 576.0 190.4 575.8 186.8 576.2 C183.2 576.6 179.3 577.0 175.5 577.6 C171.7 578.2 167.0 579.2 164.2 579.7 C161.4 580.2 160.9 580.5 158.6 580.4 C156.3 580.3 153.9 579.4 150.2 579.0 C146.4 578.6 140.8 578.6 136.1 578.3 C131.4 577.9 125.9 577.6 122.1 576.9 C118.2 576.2 114.5 574.5 113.0 574.0 Z" fill="url(#g33)"/>
<path d="M113.0 520.0 L195.0 520.0 L192.0 554.2 C190.7 554.8 186.9 557.0 183.9 557.5 C180.9 558.0 176.9 557.3 174.1 556.9 C171.3 556.5 169.9 555.4 167.1 555.1 C164.3 554.8 160.9 554.8 157.2 555.1 C153.4 555.5 147.9 556.4 144.6 557.2 C141.3 558.0 139.4 558.9 137.5 559.7 C135.6 560.5 134.4 562.1 133.0 562.1 C131.6 562.1 130.9 560.8 129.1 559.7 C127.3 558.7 124.8 556.7 122.1 555.8 C119.4 554.9 114.5 554.6 113.0 554.4 Z" fill="url(#g34)"/>
<path d="M141.0 510.0 L272.8 510.0 L272.8 542.2 C270.9 542.8 265.7 544.7 261.6 545.9 C257.5 547.1 252.2 548.5 248.3 549.6 C244.4 550.7 241.2 551.9 238.0 552.6 C234.8 553.3 232.4 553.9 229.2 553.6 C226.0 553.4 222.1 551.7 218.9 551.1 C215.7 550.5 212.5 550.0 210.0 550.3 C207.5 550.6 205.6 551.8 204.1 553.0 C202.6 554.2 201.8 556.1 201.2 557.7 C200.6 559.4 200.6 562.0 200.5 562.9 C199.4 561.7 195.9 557.7 193.8 555.5 C191.7 553.3 189.6 551.2 187.9 549.6 C186.2 548.0 186.2 547.4 183.9 546.0 C181.6 544.6 177.4 542.5 174.1 541.0 C170.8 539.5 168.6 538.5 164.2 536.8 C159.8 535.0 151.3 532.4 147.4 530.5 C143.5 528.6 142.1 526.4 141.0 525.6 Z" fill="url(#g35)"/>
<path d="M113.0 470.4 L272.8 470.4 L272.8 494.1 C270.9 494.5 266.4 495.3 261.5 496.3 C256.6 497.3 250.3 499.4 243.6 500.3 C236.9 501.2 228.4 500.9 221.3 501.9 C214.2 502.9 206.0 504.9 201.2 506.4 C196.3 507.9 195.9 511.2 192.2 510.8 C188.5 510.4 184.0 505.8 178.8 504.1 C173.6 502.4 168.4 501.9 160.9 500.8 C153.4 499.7 140.3 498.7 134.0 497.4 C127.7 496.1 126.4 493.7 122.9 493.0 C119.4 492.3 114.7 493.0 113.0 493.0 Z" fill="url(#g36)"/>
<path d="M113.0 493.0 C114.7 493.0 119.4 492.3 122.9 493.0 C126.4 493.7 127.7 496.1 134.0 497.4 C140.3 498.7 153.4 499.7 160.9 500.8 C168.4 501.9 173.6 502.4 178.8 504.1 C184.0 505.8 190.0 509.7 192.2 510.8 L192.3 522.4 C191.4 523.2 190.1 526.2 186.8 527.0 C183.5 527.8 175.8 527.0 172.7 527.2 C169.6 527.4 169.4 527.4 168.4 528.0 C167.4 528.6 167.1 530.1 166.4 530.8 C165.7 531.5 165.1 532.2 164.4 532.2 C163.7 532.2 163.0 531.6 162.4 530.8 C161.8 530.0 161.5 528.3 160.6 527.6 C159.7 526.9 160.5 526.8 157.2 526.5 C153.9 526.2 146.8 526.1 141.0 525.6 C135.2 525.1 126.8 524.0 122.1 523.4 C117.4 522.8 114.5 522.2 113.0 522.0 Z" fill="#f9e725"/>
<path d="M192.2 510.8 C193.7 510.1 196.3 507.9 201.2 506.4 C206.0 504.9 214.2 502.9 221.3 501.9 C228.4 500.9 236.9 501.2 243.6 500.3 C250.3 499.4 256.6 497.3 261.5 496.3 C266.4 495.3 270.9 494.5 272.8 494.1 L272.8 515.7 C269.9 516.5 260.5 518.9 255.7 520.2 C250.9 521.6 247.3 522.7 243.9 523.8 C240.5 524.9 237.8 526.4 235.1 526.8 C232.4 527.2 230.4 526.4 227.7 526.0 C225.0 525.6 222.3 524.7 218.9 524.6 C215.5 524.5 210.5 525.3 207.1 525.3 C203.7 525.3 200.8 525.1 198.3 524.6 C195.8 524.1 193.3 522.8 192.3 522.4 Z" fill="url(#g37)"/>
<path d="M113.0 493.0 C114.7 493.0 119.4 492.3 122.9 493.0 C126.4 493.7 127.7 496.1 134.0 497.4 C140.3 498.7 153.4 499.7 160.9 500.8 C168.4 501.9 173.6 502.4 178.8 504.1 C184.0 505.8 188.5 510.4 192.2 510.8 C195.9 511.2 196.3 507.9 201.2 506.4 C206.0 504.9 214.2 502.9 221.3 501.9 C228.4 500.9 236.9 501.2 243.6 500.3 C250.3 499.4 256.6 497.3 261.5 496.3 C266.4 495.3 270.9 494.5 272.8 494.1" fill="none" stroke="#33231b" stroke-width="1.95" stroke-linejoin="round" stroke-linecap="butt"/>
<path d="M113.0 522.0 C114.5 522.2 117.4 522.8 122.1 523.4 C126.8 524.0 135.2 525.1 141.0 525.6 C146.8 526.1 153.9 526.2 157.2 526.5 C160.5 526.8 159.7 526.9 160.6 527.6 C161.5 528.3 161.8 530.0 162.4 530.8 C163.0 531.6 163.7 532.2 164.4 532.2 C165.1 532.2 165.7 531.5 166.4 530.8 C167.1 530.1 167.4 528.6 168.4 528.0 C169.4 527.4 169.6 527.4 172.7 527.2 C175.8 527.0 183.5 527.8 186.8 527.0 C190.1 526.2 191.4 523.2 192.3 522.4" fill="none" stroke="#33231b" stroke-width="1.95" stroke-linejoin="round" stroke-linecap="butt"/>
<path d="M192.3 522.4 C193.3 522.8 195.8 524.1 198.3 524.6 C200.8 525.1 203.7 525.3 207.1 525.3 C210.5 525.3 215.5 524.5 218.9 524.6 C222.3 524.7 225.0 525.6 227.7 526.0 C230.4 526.4 232.4 527.2 235.1 526.8 C237.8 526.4 240.5 524.9 243.9 523.8 C247.3 522.7 250.9 521.6 255.7 520.2 C260.5 518.9 269.9 516.5 272.8 515.7" fill="none" stroke="#33231b" stroke-width="1.95" stroke-linejoin="round" stroke-linecap="butt"/>
<path d="M272.8 542.2 C270.9 542.8 265.7 544.7 261.6 545.9 C257.5 547.1 252.2 548.5 248.3 549.6 C244.4 550.7 241.2 551.9 238.0 552.6 C234.8 553.3 232.4 553.9 229.2 553.6 C226.0 553.4 222.1 551.7 218.9 551.1 C215.7 550.5 212.5 550.0 210.0 550.3 C207.5 550.6 205.6 551.8 204.1 553.0 C202.6 554.2 201.8 556.1 201.2 557.7 C200.6 559.4 200.6 562.0 200.5 562.9" fill="none" stroke="#33231b" stroke-width="1.95" stroke-linejoin="round" stroke-linecap="butt"/>
<path d="M200.5 562.9 C199.4 561.7 195.9 557.7 193.8 555.5 C191.7 553.3 189.6 551.2 187.9 549.6 C186.2 548.0 186.2 547.4 183.9 546.0 C181.6 544.6 177.4 542.5 174.1 541.0 C170.8 539.5 168.6 538.5 164.2 536.8 C159.8 535.0 151.3 532.4 147.4 530.5 C143.5 528.6 142.1 526.4 141.0 525.6" fill="none" stroke="#33231b" stroke-width="1.95" stroke-linejoin="round" stroke-linecap="butt"/>
<path d="M113.0 554.4 C114.5 554.6 119.4 554.9 122.1 555.8 C124.8 556.7 127.3 558.7 129.1 559.7 C130.9 560.8 131.6 562.1 133.0 562.1 C134.4 562.1 135.6 560.5 137.5 559.7 C139.4 558.9 141.3 558.0 144.6 557.2 C147.9 556.4 153.4 555.5 157.2 555.1 C160.9 554.8 164.3 554.8 167.1 555.1 C169.9 555.4 171.3 556.5 174.1 556.9 C176.9 557.3 180.9 558.0 183.9 557.5 C186.9 557.0 190.7 554.8 192.0 554.2" fill="none" stroke="#33231b" stroke-width="1.95" stroke-linejoin="round" stroke-linecap="butt"/>
<path d="M113.0 574.0 C114.5 574.5 118.2 576.2 122.1 576.9 C125.9 577.6 131.4 577.9 136.1 578.3 C140.8 578.6 146.4 578.6 150.2 579.0 C153.9 579.4 156.3 580.3 158.6 580.4 C160.9 580.5 161.4 580.2 164.2 579.7 C167.0 579.2 171.7 578.2 175.5 577.6 C179.3 577.0 183.2 576.6 186.8 576.2 C190.4 575.8 193.9 576.0 196.8 575.4 C199.7 574.8 202.3 573.8 204.1 572.4 C205.9 571.0 207.0 567.9 207.6 567.0" fill="none" stroke="#33231b" stroke-width="1.95" stroke-linejoin="round" stroke-linecap="butt"/>
<path d="M272.8 568.8 C270.9 569.5 265.7 571.7 261.6 573.2 C257.5 574.7 252.7 576.5 248.3 577.6 C243.9 578.7 238.3 578.8 235.1 579.8 C231.9 580.8 230.9 583.2 229.2 583.5 C227.5 583.8 226.5 582.9 224.8 581.3 C223.1 579.7 221.1 576.0 218.9 573.9 C216.7 571.8 214.0 570.3 211.5 568.8 C209.0 567.3 205.9 566.1 204.1 565.1 C202.3 564.1 201.1 563.3 200.5 562.9" fill="none" stroke="#33231b" stroke-width="1.95" stroke-linejoin="round" stroke-linecap="butt"/>
<path d="M158.6 580.4 C159.3 581.2 161.4 583.9 162.8 585.3 C164.2 586.7 165.0 587.9 167.1 588.8 C169.2 589.7 173.2 590.2 175.5 590.9 C177.8 591.6 180.2 592.8 181.1 593.2" fill="none" stroke="#33231b" stroke-width="1.95" stroke-linejoin="round" stroke-linecap="butt"/>
<path d="M192.2 510.8 L192.3 522.4" fill="none" stroke="#33231b" stroke-width="1.95" stroke-linejoin="round" stroke-linecap="butt"/>
<path d="M113.0 470.4 L272.8 470.4 L272.8 593.2 L113.0 593.2Z" fill="none" stroke="#33231b" stroke-width="1.45" stroke-linejoin="round"/>
<path d="M1.8 441.8 L113.0 441.8 L113.0 470.4 L1.8 470.4Z" fill="#fecccb" stroke="#33231b" stroke-width="1.45" stroke-linejoin="round"/>
<path d="M113.0 441.8 L272.8 441.8 L272.8 470.4 L113.0 470.4Z" fill="#fecccb" stroke="#33231b" stroke-width="1.45" stroke-linejoin="round"/>
<path d="M272.8 441.8 L384.0 441.8 L384.0 470.4 L272.8 470.4Z" fill="#fecccb" stroke="#33231b" stroke-width="1.45" stroke-linejoin="round"/>
</g>
<rect x="530" y="482" width="350" height="12.6" fill="url(#cb)" stroke="#555" stroke-width="0.8"/>
<g class="l">
<text x="-0.5" y="17.7" font-size="25.5" font-weight="bold">A</text>
<text x="392.2" y="44.6" font-size="25.6" textLength="64.0" lengthAdjust="spacingAndGlyphs">Crust</text>
<text x="391.7" y="106.2" font-size="25" textLength="56.0" lengthAdjust="spacingAndGlyphs">CLM</text>
<text x="471.3" y="17.8" font-size="25.5" font-weight="bold">B</text>
<text x="863.4" y="44.8" font-size="25.6" textLength="64.0" lengthAdjust="spacingAndGlyphs">Crust</text>
<text x="862.9" y="106.1" font-size="25" textLength="56.0" lengthAdjust="spacingAndGlyphs">CLM</text>
<text x="472.0" y="223.2" font-size="25.5" font-weight="bold">D</text>
<text x="863.4" y="250.4" font-size="25.6" textLength="64.0" lengthAdjust="spacingAndGlyphs">Crust</text>
<text x="862.9" y="311.4" font-size="25" textLength="56.0" lengthAdjust="spacingAndGlyphs">CLM</text>
<text x="-0.2" y="222.0" font-size="25.5" font-weight="bold">C</text>
<text x="392.2" y="250.6" font-size="25.6" textLength="64.0" lengthAdjust="spacingAndGlyphs">Crust</text>
<text x="391.7" y="311.8" font-size="25" textLength="56.0" lengthAdjust="spacingAndGlyphs">CLM</text>
<text x="0.0" y="434.4" font-size="25.5" font-weight="bold">E</text>
<text x="392.2" y="462.2" font-size="25.6" textLength="64.0" lengthAdjust="spacingAndGlyphs">Crust</text>
<text x="391.7" y="523.6" font-size="25" textLength="56.0" lengthAdjust="spacingAndGlyphs">CLM</text>
<text x="519.0" y="448.4" font-size="24" textLength="103.3" lengthAdjust="spacingAndGlyphs">numbers</text>
<text x="629.7" y="448.4" font-size="24" textLength="86.2" lengthAdjust="spacingAndGlyphs">labeled</text>
<text x="722.3" y="448.4" font-size="24" textLength="39.3" lengthAdjust="spacingAndGlyphs">are</text>
<text x="767.2" y="448.4" font-size="24" textLength="58.7" lengthAdjust="spacingAndGlyphs">ages</text>
<text x="832.8" y="448.4" font-size="24" textLength="20.5" lengthAdjust="spacingAndGlyphs">in</text>
<text x="858.7" y="448.4" font-size="24" textLength="34.5" lengthAdjust="spacingAndGlyphs">Ga</text>
<text x="511.0" y="522.5" font-size="24" textLength="69.4" lengthAdjust="spacingAndGlyphs">fertile</text>
<text x="819.2" y="520.6" font-size="24" textLength="104.6" lengthAdjust="spacingAndGlyphs">depleted</text>
</g>
<g class="n">
<text x="34.6" y="45.2" fill="#141494">2</text>
<text x="32.3" y="79.2" fill="#141494">2</text>
<text x="28.8" y="127.2" class="d2">2</text>
<text x="164.9 179.3 194.7" y="46.5" fill="#141494">3.5</text>
<text x="162.6 177.0 192.4" y="84.0" fill="#141494">3.5</text>
<text x="163.1 177.5 192.9" y="125.5" class="d1">3.5</text>
<text x="163.6 178.0 193.4" y="167.0" class="d2">3.5</text>
<text x="310.3" y="45.5" fill="#141494">2</text>
<text x="308.3" y="76.5" fill="#141494">2</text>
<text x="308.1" y="125.3" class="d2">2</text>
<text x="546.1" y="45.5" fill="#141494">2</text>
<text x="544.3" y="79.1" fill="#141494">2</text>
<text x="539.8 554.3 569.7" y="133.0" class="d2">0.5</text>
<text x="675.5 689.9 705.3" y="47.0" fill="#141494">3.5</text>
<text x="674.0 688.4 703.8" y="74.2" fill="#141494">3.5</text>
<text x="672.5 687.2 702.6" y="101.8" fill="#141494">2.5</text>
<text x="689.9 705.3" y="136.0" class="d1">.5</text>
<text x="675.0 689.5 704.9" y="167.6" class="d2">0.5</text>
<text x="822.2" y="45.8" fill="#141494">2</text>
<text x="820.0" y="78.2" fill="#141494">2</text>
<text x="799.3 813.8 829.2" y="133.2" class="d2">0.5</text>
<text x="546.5" y="250.4" fill="#141494">2</text>
<text x="544.2" y="284.6" fill="#141494">2</text>
<text x="540.4" y="332.5" class="d2">2</text>
<text x="588.0 602.1 609.5" y="250.6" fill="#141494">2.7</text>
<text x="644.1 658.5 673.9" y="250.8" fill="#141494">3.5</text>
<text x="701.1 715.2 722.6" y="250.4" fill="#141494">2.7</text>
<text x="590.4 604.5 611.9" y="286.4" fill="#141494">2.7</text>
<text x="644.5 658.9 674.3" y="289.4" fill="#141494">3.5</text>
<text x="702.4 716.5 723.9" y="286.4" fill="#141494">2.7</text>
<text x="590.5 604.6 612.0" y="328.3" class="d1">2.7</text>
<text x="643.9 658.3 673.7" y="331.7" class="d1">3.5</text>
<text x="702.2 716.3 723.7" y="331.5" class="d1">2.7</text>
<text x="588.6 602.7 610.1" y="371.2" class="d2">2.7</text>
<text x="643.9 658.3 673.7" y="372.3" class="d2">3.5</text>
<text x="702.9 717.0 724.4" y="375.6" class="d2">2.7</text>
<text x="822.0" y="251.0" fill="#141494">2</text>
<text x="820.5" y="282.7" fill="#141494">2</text>
<text x="818.7" y="332.1" class="d2">2</text>
<text x="34.8" y="251.0" fill="#141494">2</text>
<text x="51.8" y="283.5" fill="#141494">2</text>
<text x="23.0 37.5 52.9" y="343.5" class="d1">0.5</text>
<text x="171.6 186.0 201.4" y="251.5" fill="#141494">3.5</text>
<text x="175.9 190.3 205.7" y="284.6" fill="#141494">3.5</text>
<text x="116.6 131.0 146.5" y="310.9" class="d1">3.3</text>
<text x="224.1" y="310.9" class="d1">3</text>
<text x="122.8" y="337.5" fill="#141494">2</text>
<text x="183.3 198.0 213.8" y="337.0" fill="#141494">2.4</text>
<text x="109.0 123.5 138.9" y="386.5" fill="#141494">0.5</text>
<text x="243.0 257.5 272.9" y="387.0" fill="#141494">0.5</text>
<text x="310.1" y="251.9" fill="#141494">2</text>
<text x="300.0" y="291.3" class="d1">2</text>
<text x="326.4 340.9 356.3" y="345.0" class="d1">0.5</text>
<text x="49.3" y="463.0" fill="#141494">2</text>
<text x="32.6" y="492.5" fill="#141494">3</text>
<text x="59.1 73.5 88.9" y="525.0" fill="#141494">3.5</text>
<text x="4.8 19.3 34.7" y="554.7" class="d2">0.5</text>
<text x="165.3 179.7 195.1" y="463.8" fill="#141494">3.5</text>
<text x="163.9 178.6 194.0" y="495.2" fill="#141494">2.5</text>
<text x="119.6 134.0 149.2" y="518.8" fill="#141494"><tspan fill="#f9e52c" style="stroke:#c29a3c;stroke-width:.45px;stroke-dasharray:1.2 1">3</tspan><tspan>.</tspan><tspan>6</tspan></text>
<text x="223.1" y="523.5" fill="#141494">3</text>
<text x="203.1 217.5 232.9" y="547.5" fill="#141494">3.5</text>
<text x="150.3" y="574.5" fill="#141494">2</text>
<text x="112.5 127.0 142.4" y="600.0" fill="#141494">0.5</text>
<text x="229.0 243.5 258.9" y="603.5" fill="#141494">0.5</text>
<text x="311.2" y="462.9" fill="#141494">2</text>
<text x="304.1 311.5" y="494.9" class="d1">.5</text>
<text x="324.1 338.8 354.2" y="525.5" fill="#141494">2.5</text>
<text x="298.7 313.1 328.5" y="554.0" fill="#141494">3.5</text>
</g>
<g fill="none" stroke-linejoin="miter" stroke-miterlimit="6">
<path d="M549.3 91.1 L555.2 87.3 L555.2 103.6" stroke="#f8ecb8" stroke-width="2.6"/><path d="M549.3 91.1 L555.2 87.3 L555.2 103.6" stroke="#1818c0" stroke-width="1.5"/>
<path d="M677.4 123.6 L683.3 119.8 L683.3 136.1" stroke="#f8ecb8" stroke-width="2.6"/><path d="M677.4 123.6 L683.3 119.8 L683.3 136.1" stroke="#1818c0" stroke-width="1.5"/>
<path d="M819.9 91.6 L825.8 87.8 L825.8 104.1" stroke="#f8ecb8" stroke-width="2.6"/><path d="M819.9 91.6 L825.8 87.8 L825.8 104.1" stroke="#1818c0" stroke-width="1.5"/>
<path d="M44.5 301.1 L50.4 297.3 L50.4 313.6" stroke="#f8ecb8" stroke-width="2.3"/><path d="M44.5 301.1 L50.4 297.3 L50.4 313.6" stroke="#141494" stroke-width="1.8"/>
<path d="M163.8 353.6 L169.7 349.8 L169.7 366.1" stroke="#f8ecb8" stroke-width="2.3"/><path d="M163.8 353.6 L169.7 349.8 L169.7 366.1" stroke="#141494" stroke-width="1.8"/>
<path d="M225.4 353.1 L231.3 349.3 L231.3 365.6" stroke="#f8ecb8" stroke-width="2.3"/><path d="M225.4 353.1 L231.3 349.3 L231.3 365.6" stroke="#141494" stroke-width="1.8"/>
<path d="M350.0 298.6 L355.9 294.8 L355.9 311.1" stroke="#f8ecb8" stroke-width="2.3"/><path d="M350.0 298.6 L355.9 294.8 L355.9 311.1" stroke="#141494" stroke-width="1.8"/>
<path d="M130.0 541.8 L135.9 538.0 L135.9 554.3" stroke="#f8ecb8" stroke-width="2.3"/><path d="M130.0 541.8 L135.9 538.0 L135.9 554.3" stroke="#141494" stroke-width="1.8"/>
<path d="M233.8 560.0 L239.7 556.2 L239.7 572.5" stroke="#f8ecb8" stroke-width="2.6"/><path d="M233.8 560.0 L239.7 556.2 L239.7 572.5" stroke="#1818c0" stroke-width="1.5"/>
<path d="M292.8 482.5 L298.7 478.7 L298.7 495.0" stroke="#f8ecb8" stroke-width="2.6"/><path d="M292.8 482.5 L298.7 478.7 L298.7 495.0" stroke="#1818c0" stroke-width="1.5"/>
</g>
</svg>
</body></html>
